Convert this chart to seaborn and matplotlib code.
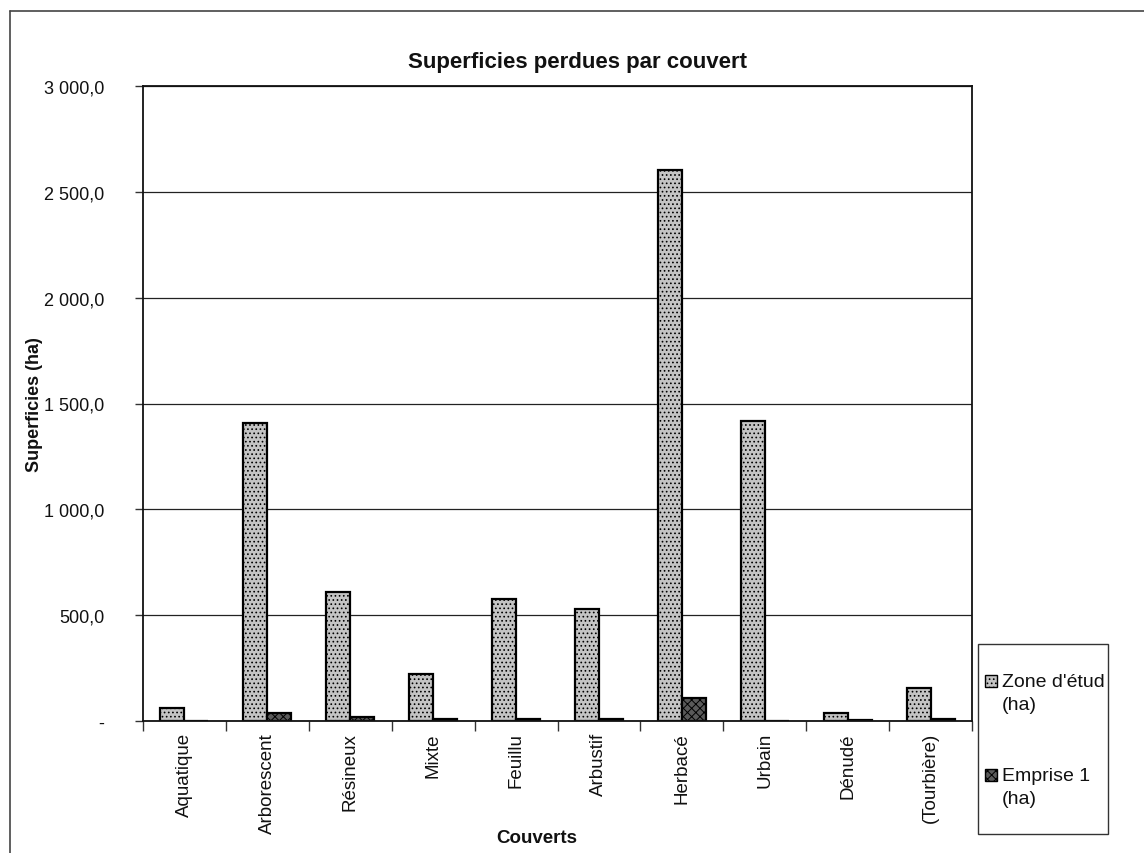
import matplotlib
matplotlib.use("Agg")
import matplotlib.pyplot as plt
import seaborn as sns
import pandas as pd
from matplotlib.lines import Line2D
from matplotlib.patches import Rectangle
from matplotlib.ticker import FuncFormatter

categories = ["Aquatique", "Arborescent", "Résineux", "Mixte", "Feuillu",
              "Arbustif", "Herbacé", "Urbain", "Dénudé", "(Tourbière)"]
zone_etude = [60, 1410, 611, 224, 577, 530, 2605, 1419, 38, 157]
emprise_1 = [0, 38, 20, 11, 11, 11, 108, 0, 4, 11]
series_names = ["Zone d'étud\n(ha)", "Emprise 1\n(ha)"]
y_ticks = [0, 500, 1000, 1500, 2000, 2500, 3000]

df = pd.DataFrame({
    "Couverts": categories * 2,
    "Superficies": zone_etude + emprise_1,
    "Serie": [series_names[0]] * len(categories) + [series_names[1]] * len(categories),
})

sns.set_theme(style="white")
plt.rcParams["font.family"] = ["Liberation Sans", "DejaVu Sans"]
plt.rcParams["hatch.linewidth"] = 0.7

W, H = 1144, 854
fig = plt.figure(figsize=(W / 100, H / 100), dpi=100)
ax = fig.add_axes([143 / W, 1 - 722 / H, (972 - 143) / W, (722 - 87) / H])

palette = {series_names[0]: "#c4c4c4", series_names[1]: "#5a5a5a"}
sns.barplot(data=df, x="Couverts", y="Superficies", hue="Serie", order=categories,
            hue_order=series_names, palette=palette, width=0.58, gap=0,
            edgecolor="black", linewidth=1.6, saturation=1, ax=ax, legend=False)

hatches = {series_names[0]: "....", series_names[1]: "xxxx"}
n = len(categories)
for i, bar in enumerate(ax.patches[: 2 * n]):
    s = series_names[0] if i < n else series_names[1]
    bar.set_hatch(hatches[s])

ax.set_ylim(0, 3000)
ax.set_xlim(-0.5, n - 0.5)
ax.set_yticks(y_ticks)
ax.yaxis.set_major_formatter(FuncFormatter(
    lambda v, p: "-" if v == 0 else f"{v:,.1f}".replace(",", " ").replace(".", ",")))
ax.grid(axis="y", color="#222222", linewidth=0.9)
ax.set_axisbelow(True)
for sp in ax.spines.values():
    sp.set_visible(True)
    sp.set_color("#111111")
    sp.set_linewidth(1.3)

# x ticks: marks at boundaries, labels centered
ax.set_xticks([i - 0.5 for i in range(n + 1)])
ax.set_xticklabels([])
ax.set_xticks(range(n), minor=True)
ax.set_xticklabels(categories, minor=True, rotation=90, fontsize=13.5, color="#111111")
ax.tick_params(axis="x", which="major", direction="out", length=7, width=1, color="#333333", bottom=True)
ax.tick_params(axis="x", which="minor", length=0, pad=8)
ax.tick_params(axis="y", direction="out", length=6, width=1, color="#333333", left=True,
               labelsize=13, labelcolor="#111111", pad=22)

ax.set_xlabel("Couverts", fontsize=13.5, fontweight="bold", color="#111111")
ax.xaxis.set_label_coords((537 - 143) / 829, -0.17)
ax.set_ylabel("Superficies (ha)", fontsize=13, fontweight="bold", color="#111111")
ax.yaxis.set_label_coords(-0.121, 0.5)
ax.set_title("Superficies perdues par couvert", fontsize=16, fontweight="bold",
             color="#111111", pad=14, x=(578 - 143) / 829)

# legend box (drawn in figure pixel coordinates)
def fx(px):
    return px / W

def fy(py):
    return 1 - py / H

fig.add_artist(Rectangle((fx(978), fy(835)), fx(1108) - fx(978), fy(645) - fy(835),
                         transform=fig.transFigure, facecolor="white",
                         edgecolor="#333333", linewidth=1))
for s, ytop in zip(series_names, [676, 770]):
    fig.add_artist(Rectangle((fx(985), fy(ytop + 12)), 12 / W, 12 / H,
                             transform=fig.transFigure, facecolor=palette[s],
                             edgecolor="black", hatch=hatches[s], linewidth=1))
    fig.text(fx(1002), fy(ytop - 2), s, ha="left", va="top", fontsize=14,
             color="#111111", linespacing=1.45)

# outer chart border
fig.add_artist(Line2D([10 / W, 10 / W], [1 - 12 / H, 0], transform=fig.transFigure,
                      color="#444444", linewidth=1.2))
fig.add_artist(Line2D([10 / W, 1], [1 - 12 / H, 1 - 12 / H], transform=fig.transFigure,
                      color="#444444", linewidth=1.2))

fig.savefig("out.png", dpi=100)
